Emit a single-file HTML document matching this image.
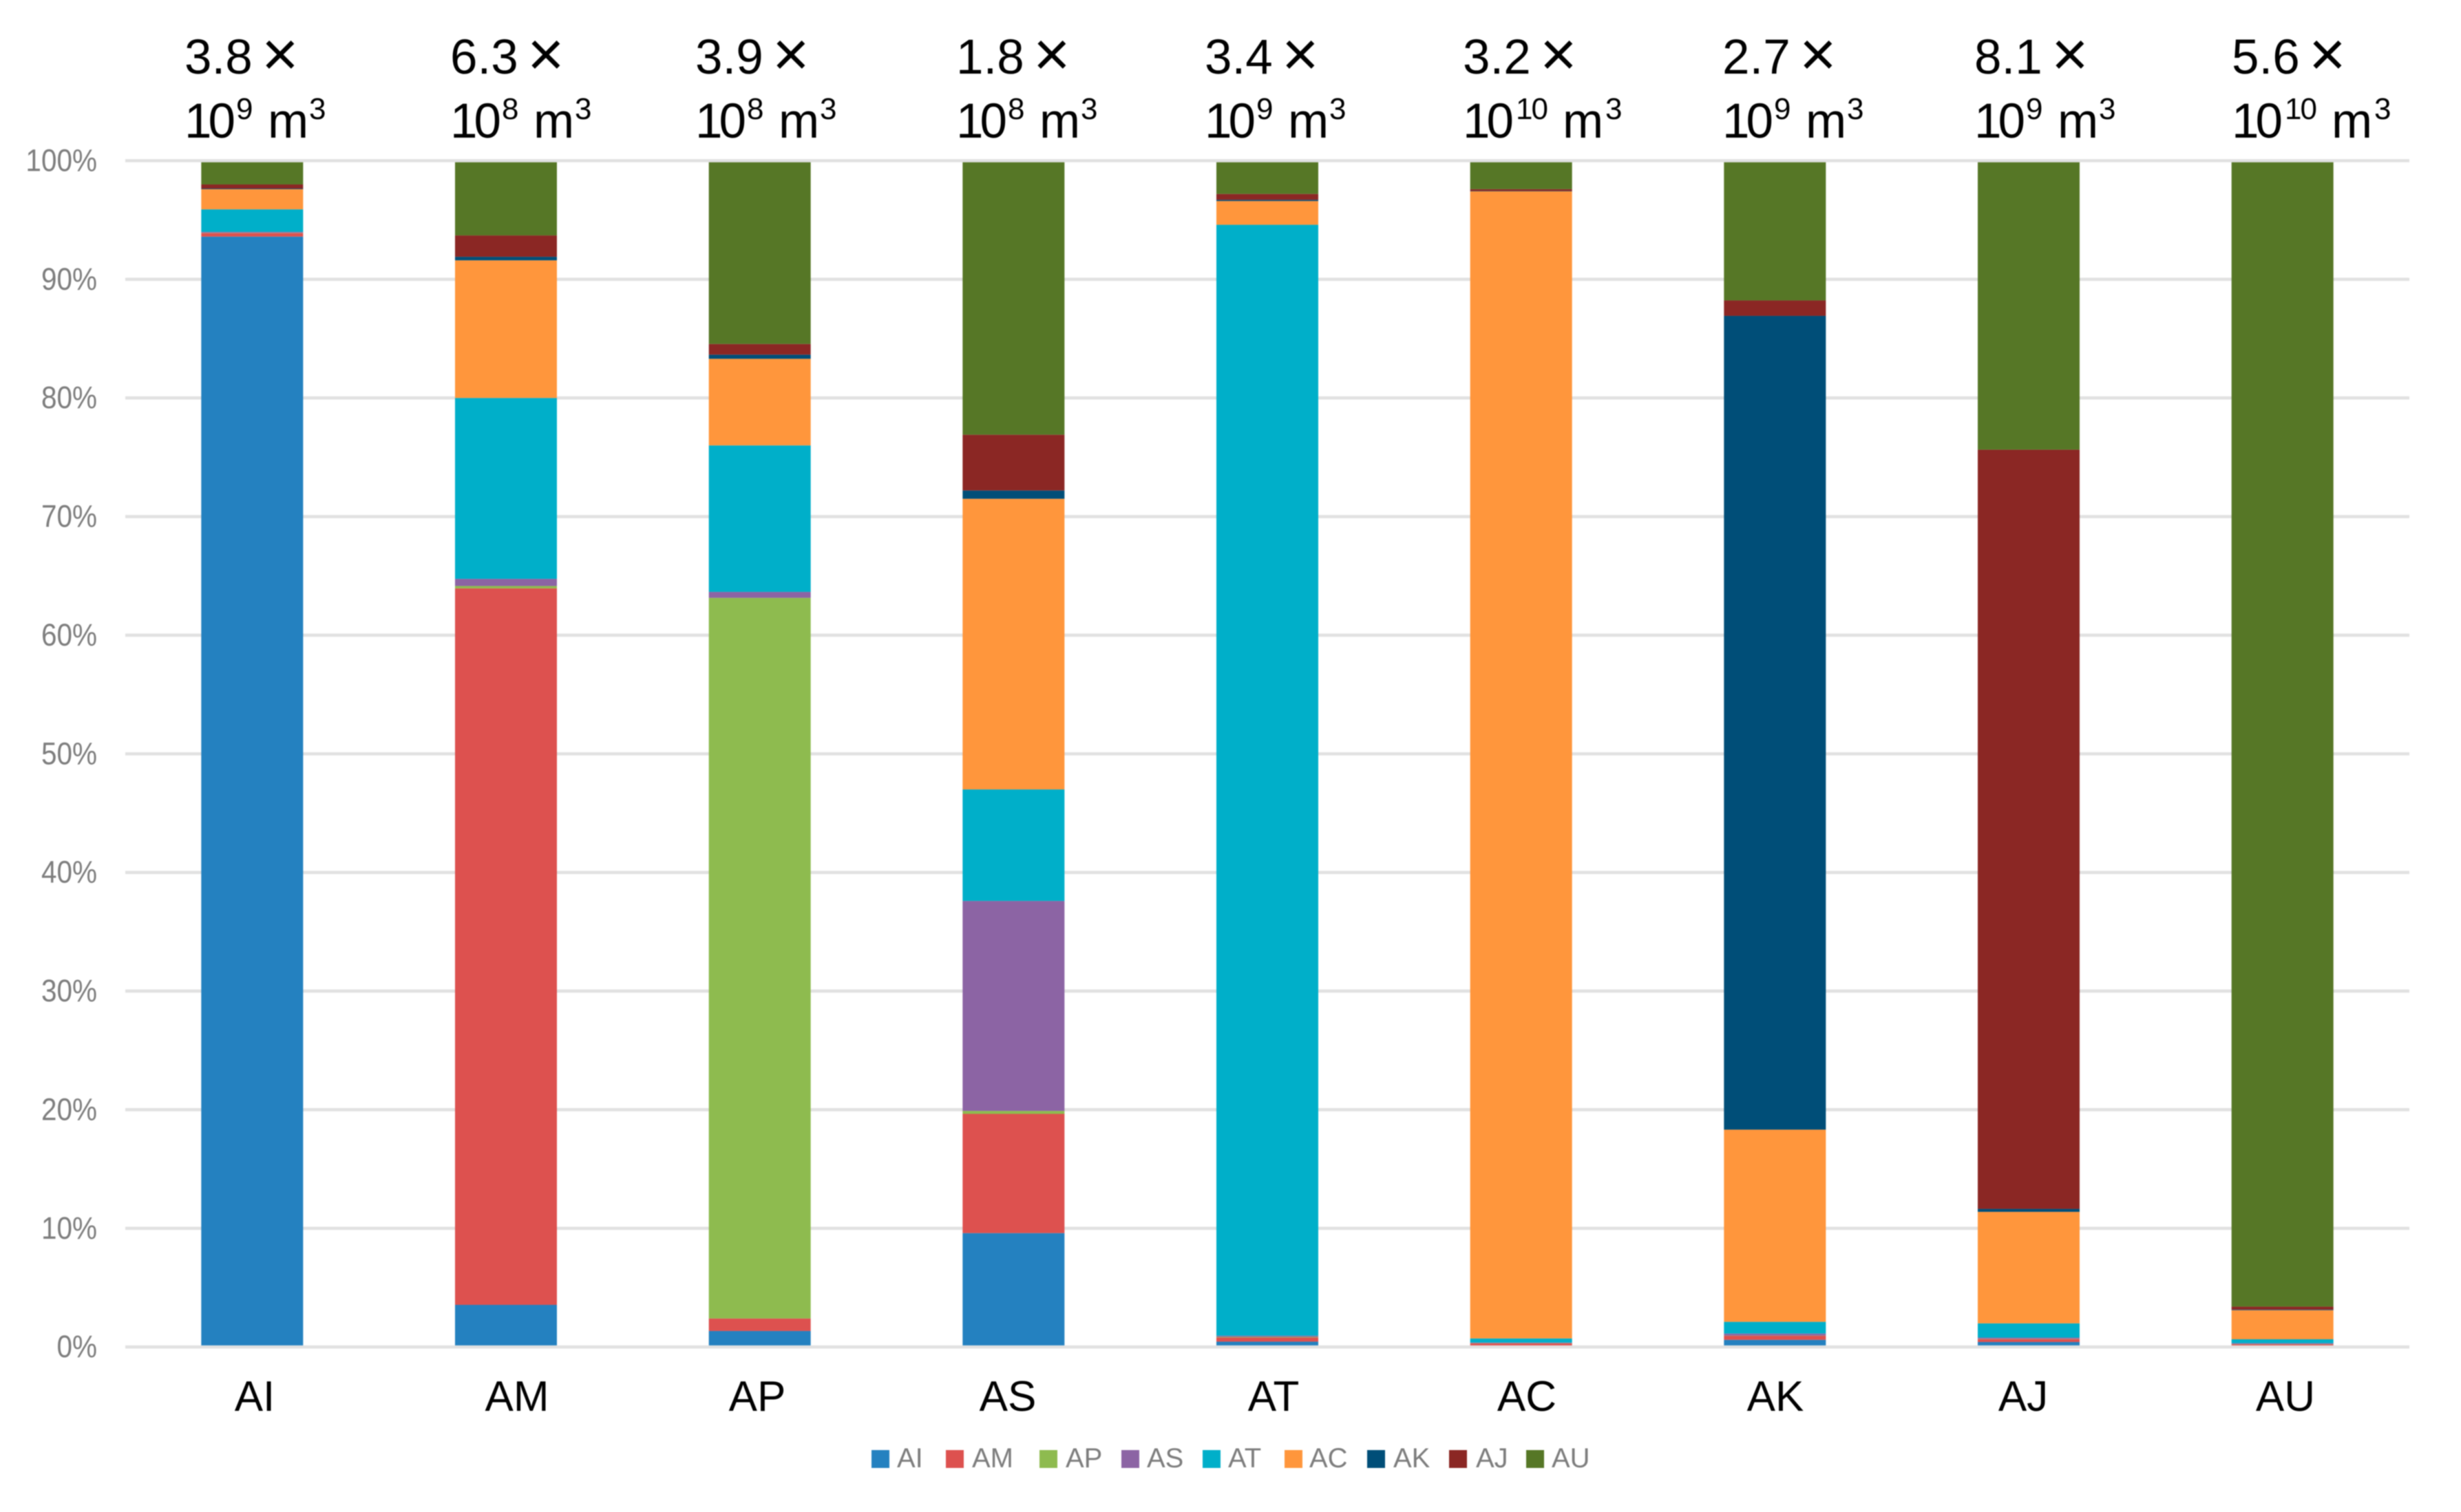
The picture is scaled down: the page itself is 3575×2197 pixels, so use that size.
<!DOCTYPE html>
<html lang="en">
<head>
<meta charset="utf-8">
<title>Stacked percentage bar chart</title>
<style>
  html, body { margin: 0; padding: 0; background: #fff; }
  svg { display: block; filter: blur(0.9px); font-family: "Liberation Sans", sans-serif; }
  .top { font-size: 71px; fill: #000; }
  .ten { letter-spacing: -5px; }
  .sup { font-size: 44px; }
  .mul { font-size: 92px; }
  .cat { font-size: 62px; fill: #000; text-anchor: middle; }
  .tick { font-size: 45px; fill: #7d7d7d; text-anchor: end; }
  .leg { font-size: 40px; fill: #7d7d7d; }
</style>
</head>
<body>
<svg id="chart" xmlns="http://www.w3.org/2000/svg" width="3575" height="2197" viewBox="0 0 3575 2197">
  <rect x="0" y="0" width="3575" height="2197" fill="#ffffff"/>
  <g id="grid"></g>
  <g id="bars"></g>
  <g id="edges"></g>
  <g id="ticks"></g>

  <g>
    <g>
      <text class="top" y="107" x="268">3.8<tspan class="mul" x="380" dy="3">×</tspan></text>
      <text class="top" y="200"><tspan class="ten" x="268">10</tspan><tspan class="sup" x="343" y="173">9</tspan><tspan x="389" y="200">m</tspan><tspan class="sup" x="449" y="173">3</tspan></text>
    </g>
    <g>
      <text class="top" y="107" x="654">6.3<tspan class="mul" x="766" dy="3">×</tspan></text>
      <text class="top" y="200"><tspan class="ten" x="654">10</tspan><tspan class="sup" x="729" y="173">8</tspan><tspan x="775" y="200">m</tspan><tspan class="sup" x="835" y="173">3</tspan></text>
    </g>
    <g>
      <text class="top" y="107" x="1010">3.9<tspan class="mul" x="1122" dy="3">×</tspan></text>
      <text class="top" y="200"><tspan class="ten" x="1010">10</tspan><tspan class="sup" x="1085" y="173">8</tspan><tspan x="1131" y="200">m</tspan><tspan class="sup" x="1191" y="173">3</tspan></text>
    </g>
    <g>
      <text class="top" y="107" x="1389">1.8<tspan class="mul" x="1501" dy="3">×</tspan></text>
      <text class="top" y="200"><tspan class="ten" x="1389">10</tspan><tspan class="sup" x="1464" y="173">8</tspan><tspan x="1510" y="200">m</tspan><tspan class="sup" x="1570" y="173">3</tspan></text>
    </g>
    <g>
      <text class="top" y="107" x="1750">3.4<tspan class="mul" x="1862" dy="3">×</tspan></text>
      <text class="top" y="200"><tspan class="ten" x="1750">10</tspan><tspan class="sup" x="1825" y="173">9</tspan><tspan x="1871" y="200">m</tspan><tspan class="sup" x="1931" y="173">3</tspan></text>
    </g>
    <g>
      <text class="top" y="107" x="2125">3.2<tspan class="mul" x="2237" dy="3">×</tspan></text>
      <text class="top" y="200"><tspan class="ten" x="2125">10</tspan><tspan class="sup ten" x="2202" y="173" style="letter-spacing:-2px">10</tspan><tspan x="2270" y="200">m</tspan><tspan class="sup" x="2332" y="173">3</tspan></text>
    </g>
    <g>
      <text class="top" y="107" x="2502">2.7<tspan class="mul" x="2614" dy="3">×</tspan></text>
      <text class="top" y="200"><tspan class="ten" x="2502">10</tspan><tspan class="sup" x="2577" y="173">9</tspan><tspan x="2623" y="200">m</tspan><tspan class="sup" x="2683" y="173">3</tspan></text>
    </g>
    <g>
      <text class="top" y="107" x="2868">8.1<tspan class="mul" x="2980" dy="3">×</tspan></text>
      <text class="top" y="200"><tspan class="ten" x="2868">10</tspan><tspan class="sup" x="2943" y="173">9</tspan><tspan x="2989" y="200">m</tspan><tspan class="sup" x="3049" y="173">3</tspan></text>
    </g>
    <g>
      <text class="top" y="107" x="3242">5.6<tspan class="mul" x="3354" dy="3">×</tspan></text>
      <text class="top" y="200"><tspan class="ten" x="3242">10</tspan><tspan class="sup ten" x="3319" y="173" style="letter-spacing:-2px">10</tspan><tspan x="3387" y="200">m</tspan><tspan class="sup" x="3449" y="173">3</tspan></text>
    </g>
  </g>

  <g>
    <text class="cat" x="370" y="2050">AI</text>
    <text class="cat" x="751" y="2050">AM</text>
    <text class="cat" x="1100" y="2050">AP</text>
    <text class="cat" x="1464" y="2050">AS</text>
    <text class="cat" x="1850" y="2050">AT</text>
    <text class="cat" x="2218" y="2050">AC</text>
    <text class="cat" x="2579" y="2050">AK</text>
    <text class="cat" x="2939" y="2050">AJ</text>
    <text class="cat" x="3320" y="2050">AU</text>
  </g>

  <g>
    <g><rect x="1266" y="2107" width="26" height="26" fill="#2481c0"/><text class="leg" x="1303" y="2132">AI</text></g>
    <g><rect x="1374" y="2107" width="26" height="26" fill="#dd514f"/><text class="leg" x="1412" y="2132">AM</text></g>
    <g><rect x="1510" y="2107" width="26" height="26" fill="#8ebb4f"/><text class="leg" x="1548" y="2132">AP</text></g>
    <g><rect x="1629" y="2107" width="26" height="26" fill="#8c64a4"/><text class="leg" x="1666" y="2132">AS</text></g>
    <g><rect x="1747" y="2107" width="26" height="26" fill="#00afc9"/><text class="leg" x="1784" y="2132">AT</text></g>
    <g><rect x="1866" y="2107" width="26" height="26" fill="#ff963c"/><text class="leg" x="1902" y="2132">AC</text></g>
    <g><rect x="1986" y="2107" width="26" height="26" fill="#004e78"/><text class="leg" x="2024" y="2132">AK</text></g>
    <g><rect x="2105" y="2107" width="26" height="26" fill="#8b2724"/><text class="leg" x="2144" y="2132">AJ</text></g>
    <g><rect x="2217" y="2107" width="26" height="26" fill="#567726"/><text class="leg" x="2254" y="2132">AU</text></g>
  </g>
</svg>

<script>
// Chart data: percentage share of each source (series) in each category.
const categories = ['AI', 'AM', 'AP', 'AS', 'AT', 'AC', 'AK', 'AJ', 'AU'];
const seriesNames = ['AI', 'AM', 'AP', 'AS', 'AT', 'AC', 'AK', 'AJ', 'AU'];
const seriesColors = ['#2481c0', '#dd514f', '#8ebb4f', '#8c64a4', '#00afc9', '#ff963c', '#004e78', '#8b2724', '#567726'];
const valuesAI = [93.6, 3.55, 1.35, 9.6, 0.45, 0.1, 0.6, 0.42, 0.1];
const valuesAM = [0.3, 60.4, 1.05, 10.05, 0.35, 0.2, 0.34, 0.25, 0.12];
const valuesAP = [0.02, 0.2, 60.75, 0.25, 0.05, 0.02, 0.02, 0.02, 0.02];
const valuesAS = [0.08, 0.6, 0.5, 17.7, 0.1, 0.05, 0.17, 0.1, 0.08];
const valuesAT = [1.9, 15.25, 12.35, 9.4, 93.65, 0.35, 0.99, 1.2, 0.33];
const valuesAC = [1.7, 11.6, 7.3, 24.5, 2.0, 96.7, 16.2, 9.4, 2.45];
const valuesAK = [0.05, 0.3, 0.35, 0.7, 0.1, 0.03, 68.6, 0.25, 0.05];
const valuesAJ = [0.35, 1.8, 0.9, 4.7, 0.5, 0.15, 1.3, 64.0, 0.25];
const valuesAU = [2.0, 6.3, 15.45, 23.1, 2.8, 2.4, 11.78, 24.36, 96.6];
const tickValues = [0, 10, 20, 30, 40, 50, 60, 70, 80, 90, 100];
const tickLabels = ['0%', '10%', '20%', '30%', '40%', '50%', '60%', '70%', '80%', '90%', '100%'];

const seriesValues = [valuesAI, valuesAM, valuesAP, valuesAS, valuesAT, valuesAC, valuesAK, valuesAJ, valuesAU];

// Axis functions
const SVGNS = 'http://www.w3.org/2000/svg';
const plotLeft = 182, plotRight = 3500, plotTop = 233.5, plotBottom = 1957.2;
const barWidth = 148;
function yAxis(v) { return plotBottom - (v / 100) * (plotBottom - plotTop); }
function xAxis(i) { return plotLeft + (plotRight - plotLeft) * (i + 0.5) / categories.length; }

const gridGroup = document.getElementById('grid');
const edgeGroup = document.getElementById('edges');
const tickGroup = document.getElementById('ticks');
const barGroup = document.getElementById('bars');

tickValues.forEach(function (v, i) {
  const line = document.createElementNS(SVGNS, 'rect');
  
  
  line.setAttribute('x', plotLeft);
  line.setAttribute('y', yAxis(v) - 2.3);
  line.setAttribute('width', plotRight - plotLeft);
  line.setAttribute('height', 4.6);
  line.setAttribute('fill', '#e1e1e1');
  const isEdge = i === 0 || i === tickValues.length - 1;
  (isEdge ? edgeGroup : gridGroup).appendChild(line);

  const label = document.createElementNS(SVGNS, 'text');
  
  
  label.setAttribute('class', 'tick');
  label.setAttribute('transform', 'translate(141 ' + (yAxis(v) + 15) + ') scale(0.9 1)');
  label.textContent = tickLabels[i];
  tickGroup.appendChild(label);
});

categories.forEach(function (cat, c) {
  let cumulative = 0;
  seriesNames.forEach(function (name, s) {
    const value = seriesValues[s][c];
    const yTop = yAxis(cumulative + value);
    const yBottom = yAxis(cumulative);
    const seg = document.createElementNS(SVGNS, 'rect');
    
    
    seg.setAttribute('x', xAxis(c) - barWidth / 2);
    seg.setAttribute('y', yTop);
    seg.setAttribute('width', barWidth);
    seg.setAttribute('height', Math.max(0, yBottom - yTop));
    seg.setAttribute('fill', seriesColors[s]);
    barGroup.appendChild(seg);
    cumulative += value;
  });
});
</script>
</body>
</html>
